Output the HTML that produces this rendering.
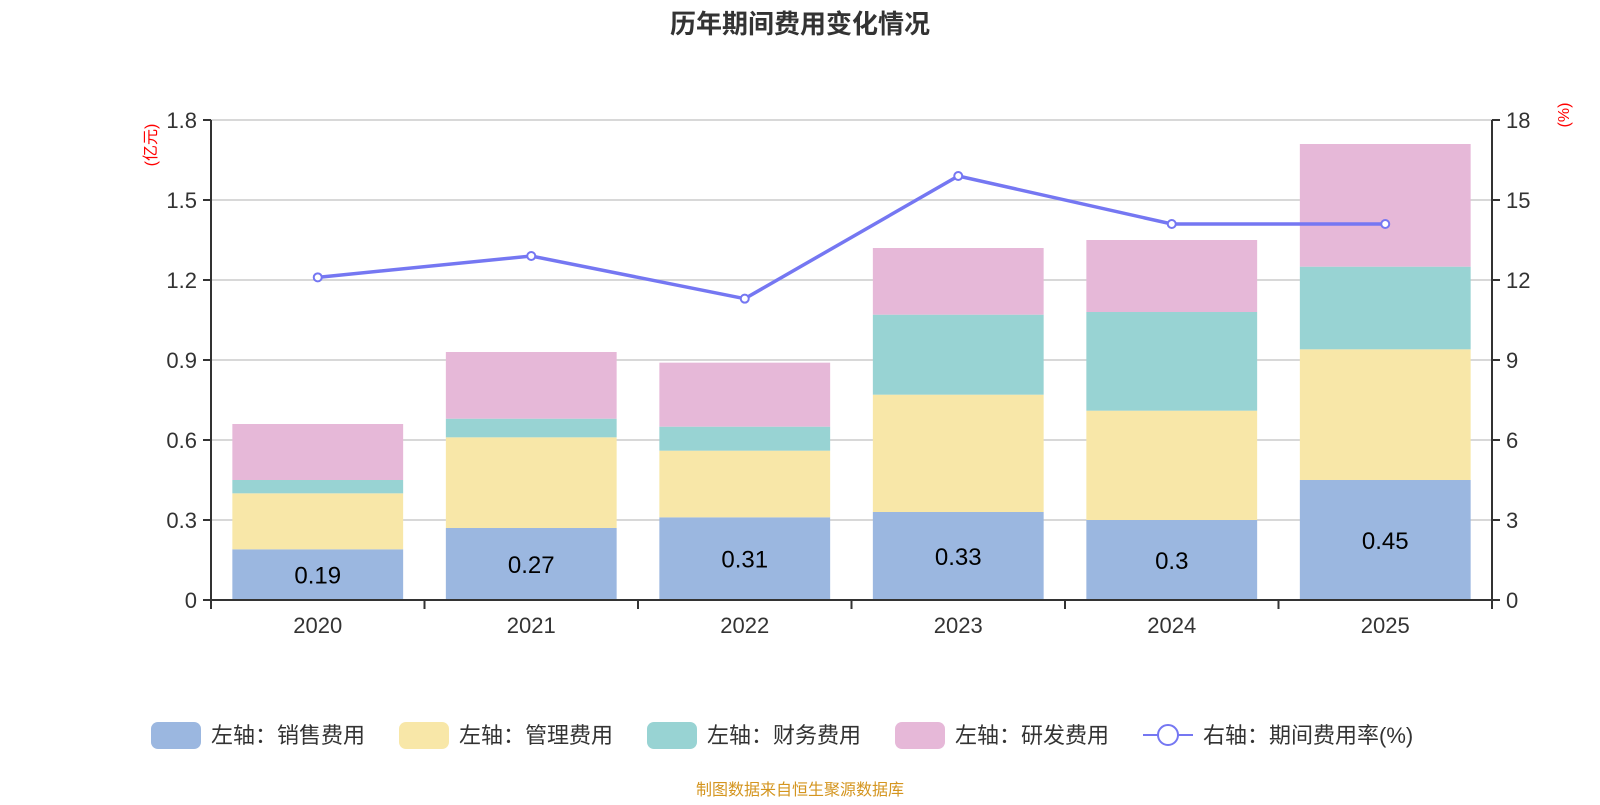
<!DOCTYPE html>
<html><head><meta charset="utf-8"><style>
body{margin:0;background:#fff;}
svg text{font-family:"Liberation Sans","Noto Sans CJK SC",sans-serif;}
</style></head><body>
<svg id="c" width="1600" height="800" viewBox="0 0 1600 800">
<text x="800" y="33" text-anchor="middle" font-size="26" font-weight="bold" fill="#333">历年期间费用变化情况</text>
<g id="grid"></g><g id="bars"></g><g id="axes"></g><g id="line"></g>
<text transform="translate(156,145) rotate(-90)" text-anchor="middle" font-size="16" fill="#f00">(亿元)</text>
<text transform="translate(1569,115) rotate(-90)" text-anchor="middle" font-size="16" fill="#f00">(%)</text>
<g id="legend"></g>
<text x="800" y="795" text-anchor="middle" font-size="16" fill="#d4951f">制图数据来自恒生聚源数据库</text>
</svg>
<script>
const categories=["2020","2021","2022","2023","2024","2025"];
const sales=[0.19,0.27,0.31,0.33,0.30,0.45];
const admin=[0.21,0.34,0.25,0.44,0.41,0.49];
const finance=[0.05,0.07,0.09,0.30,0.37,0.31];
const rnd=[0.21,0.25,0.24,0.25,0.27,0.46];
const rate=[12.1,12.9,11.3,15.9,14.1,14.1];
const leftTicks=["0","0.3","0.6","0.9","1.2","1.5","1.8"];
const rightTicks=["0","3","6","9","12","15","18"];
const seriesNames=["左轴：销售费用","左轴：管理费用","左轴：财务费用","左轴：研发费用"];
const colors=["#9bb7e0","#f8e7a8","#98d3d3","#e6b8d8"];
const NS="http://www.w3.org/2000/svg";
const L=211,R=1492,T=120,B=600;
const yL=v=>B-(v/1.8)*(B-T);
const yR=v=>B-(v/18)*(B-T);
const bw=(R-L)/categories.length;
const xC=i=>L+bw*(i+0.5);
function mk(tag,attrs,parent){const e=document.createElementNS(NS,tag);for(const k in attrs)e.setAttribute(k,attrs[k]);document.getElementById(parent).appendChild(e);return e;}
leftTicks.forEach((t,i)=>{const v=parseFloat(t);const y=yL(v);
 if(i>0){const g=mk("line",{x1:L,x2:R,y1:y,y2:y,stroke:"#ccc","stroke-width":1.5},"grid");}
 const tk=mk("line",{x1:L-8,x2:L,y1:y,y2:y,stroke:"#333","stroke-width":2},"axes");
 const tx=mk("text",{x:L-14,y:y+8,"text-anchor":"end","font-size":22,fill:"#333"},"axes");tx.textContent=t;});
rightTicks.forEach(t=>{const y=yR(parseFloat(t));
 const tk=mk("line",{x1:R,x2:R+8,y1:y,y2:y,stroke:"#333","stroke-width":2},"axes");
 const tx=mk("text",{x:R+14,y:y+8,"font-size":22,fill:"#333"},"axes");tx.textContent=t;});
let a=mk("line",{x1:L,x2:L,y1:T,y2:B,stroke:"#333","stroke-width":2},"axes");
a=mk("line",{x1:R,x2:R,y1:T,y2:B,stroke:"#333","stroke-width":2},"axes");
a=mk("line",{x1:L,x2:R,y1:B,y2:B,stroke:"#333","stroke-width":2},"axes");
for(let i=0;i<=categories.length;i++){const x=L+bw*i;const tk=mk("line",{x1:x,x2:x,y1:B,y2:B+9,stroke:"#333","stroke-width":2},"axes");}
categories.forEach((c,i)=>{const tx=mk("text",{x:xC(i),y:B+33,"text-anchor":"middle","font-size":22,fill:"#333"},"axes");tx.textContent=c;});
const series=[sales,admin,finance,rnd];
categories.forEach((c,i)=>{let base=0;const w=bw*0.8;
 series.forEach((s,k)=>{const y0=yL(base),y1=yL(base+s[i]);
  const r=mk("rect",{x:xC(i)-w/2,y:y1,width:w,height:y0-y1,fill:colors[k]},"bars");
  
  
  base+=s[i];});
 const lb=mk("text",{x:xC(i),y:(yL(0)+yL(sales[i]))/2+9,"text-anchor":"middle","font-size":24,fill:"#000"},"bars");lb.textContent=String(sales[i]);
 
 });
const pts=rate.map((v,i)=>xC(i)+","+yR(v)).join(" ");
const pl=mk("polyline",{points:pts,fill:"none",stroke:"#7577f2","stroke-width":3.5},"line");


rate.forEach((v,i)=>{const p=mk("circle",{cx:xC(i),cy:yR(v),r:4,fill:"#fff",stroke:"#7577f2","stroke-width":2},"line");
 
 });
const lx=[151,399,647,895,1143];
seriesNames.forEach((n,k)=>{const r=mk("rect",{x:lx[k],y:722,width:50,height:27,rx:7,fill:colors[k]},"legend");
 
 
 const t=mk("text",{x:lx[k]+60,y:743,"font-size":22,fill:"#333"},"legend");t.textContent=n;
 
 });
const ll=mk("line",{x1:1143,x2:1193,y1:735,y2:735,stroke:"#7577f2","stroke-width":2},"legend");
const lc=mk("circle",{cx:1168,cy:735,r:10,fill:"#fff",stroke:"#7577f2","stroke-width":2},"legend");
const lt=mk("text",{x:1203,y:743,"font-size":22,fill:"#333"},"legend");lt.textContent="右轴：期间费用率(%)";


</script>
</body></html>
